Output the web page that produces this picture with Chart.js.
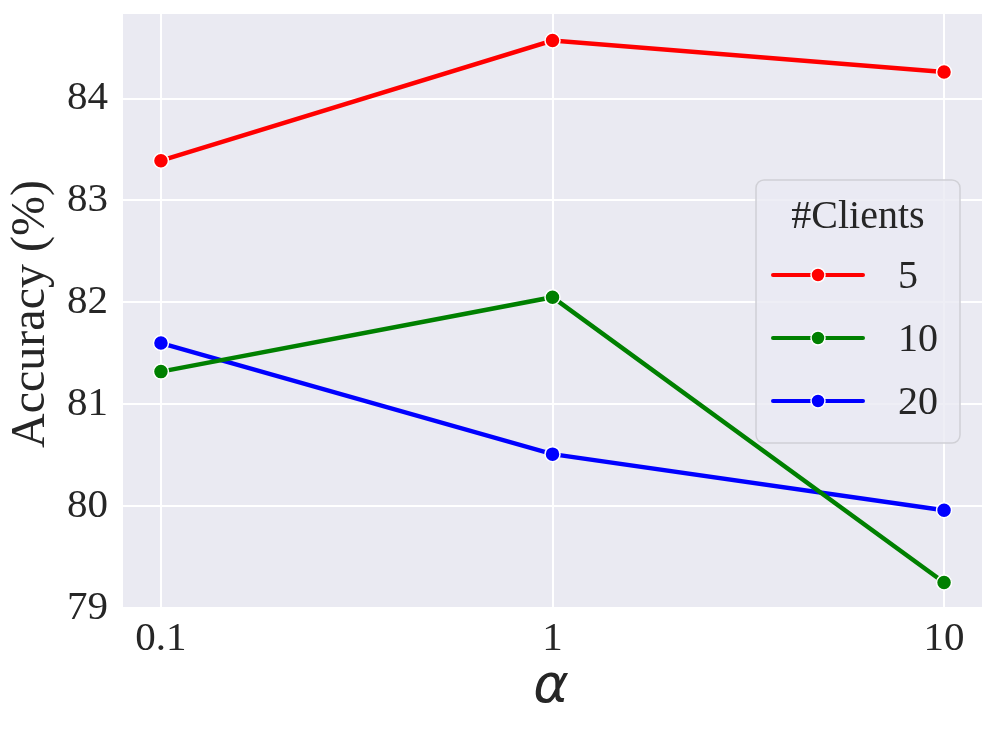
<!DOCTYPE html>
<html>
<head>
<meta charset="utf-8">
<script src="https://cdn.jsdelivr.net/npm/chart.js@4.4.1/dist/chart.umd.min.js"></script>
<style>
  html, body { margin: 0; padding: 0; background: #fff; }
  #wrap { width: 996px; height: 732px; }
</style>
</head>
<body>
<div id="wrap"><canvas id="chart" width="996" height="732"></canvas></div>
<script>
  // values
  const alphas = [0.1, 1, 10];
  const clients = ['5', '10', '20'];
  const acc5 = [83.39, 84.57, 84.26];
  const acc10 = [81.32, 82.05, 79.25];
  const acc20 = [81.60, 80.51, 79.96];
  const yTicks = [79, 80, 81, 82, 83, 84];
  const xTicks = [0.1, 1, 10];
  const colors = ['#ff0000', '#008000', '#0000ff'];

  const serif = '"Liberation Serif"';

  const series = [acc5, acc10, acc20].map((vals, i) => ({
    label: clients[i],
    data: alphas.map((a, j) => ({ x: a, y: vals[j] })),
    borderColor: colors[i],
    backgroundColor: colors[i],
    borderWidth: 4.5,
    pointRadius: 7.5,
    pointHoverRadius: 7.5,
    pointBorderColor: '#ffffff',
    pointBorderWidth: 1.5,
    pointBackgroundColor: colors[i],
    tension: 0
  }));

  // seaborn-like grey panel behind the lines
  const panel = {
    id: 'panel',
    beforeDraw(chart) {
      const { ctx, chartArea: a } = chart;
      ctx.save();
      ctx.fillStyle = '#eaeaf2';
      ctx.fillRect(a.left, a.top, a.right - a.left, a.bottom - a.top);
      ctx.restore();
    }
  };

  // axis titles + legend box inside the plot
  const extras = {
    id: 'extras',
    afterDraw(chart) {
      const { ctx } = chart;
      ctx.save();
      ctx.fillStyle = '#262626';
      ctx.translate(31, 314);
      ctx.rotate(-Math.PI / 2);
      ctx.font = '48px ' + serif;
      ctx.textAlign = 'center';
      ctx.textBaseline = 'middle';
      ctx.fillText('Accuracy (%)', 0, 0);
      ctx.restore();

      ctx.save();
      ctx.fillStyle = '#262626';
      ctx.font = 'italic 54px "DejaVu Sans"';
      ctx.textAlign = 'center';
      ctx.textBaseline = 'middle';
      ctx.fillText('α', 551, 688);
      ctx.restore();

      // legend
      const bx = 756, by = 180, bw = 204, bh = 263, r = 8;
      ctx.save();
      ctx.beginPath();
      ctx.moveTo(bx + r, by);
      ctx.arcTo(bx + bw, by, bx + bw, by + bh, r);
      ctx.arcTo(bx + bw, by + bh, bx, by + bh, r);
      ctx.arcTo(bx, by + bh, bx, by, r);
      ctx.arcTo(bx, by, bx + bw, by, r);
      ctx.closePath();
      ctx.fillStyle = 'rgba(234,234,242,0.8)';
      ctx.fill();
      ctx.strokeStyle = '#d0d0d6';
      ctx.lineWidth = 1.5;
      ctx.stroke();

      ctx.fillStyle = '#262626';
      ctx.font = '40px ' + serif;
      ctx.textAlign = 'center';
      ctx.textBaseline = 'middle';
      ctx.fillText('#Clients', 858, 217);

      const rows = [275, 338, 401];
      chart.data.datasets.forEach((ds, i) => {
        const y = rows[i];
        ctx.strokeStyle = ds.borderColor;
        ctx.lineWidth = 4;
        ctx.lineCap = 'round';
        ctx.beginPath();
        ctx.moveTo(773, y);
        ctx.lineTo(863, y);
        ctx.stroke();
        ctx.beginPath();
        ctx.arc(818, y, 7, 0, Math.PI * 2);
        ctx.fillStyle = ds.borderColor;
        ctx.fill();
        ctx.strokeStyle = '#ffffff';
        ctx.lineWidth = 1.5;
        ctx.stroke();
        ctx.fillStyle = '#262626';
        ctx.font = '40px ' + serif;
        ctx.textAlign = 'left';
        ctx.fillText(ds.label, 898, y + 2);
      });
      ctx.restore();
    }
  };

  new Chart(document.getElementById('chart'), {
    type: 'line',
    data: { datasets: series },
    options: {
      responsive: false,
      animation: false,
      layout: { padding: { top: 14, right: 14, left: 0, bottom: 0 } },
      plugins: { legend: { display: false }, tooltip: { enabled: false } },
      scales: {
        x: {
          type: 'logarithmic',
          min: 0.08,
          max: 12.5,
          afterBuildTicks: s => { s.ticks = xTicks.map(v => ({ value: v })); },
          afterFit: s => { s.height = 123; s.paddingLeft = 0; s.paddingRight = 0; },
          grid: { color: '#ffffff', lineWidth: 2, drawTicks: false },
          border: { display: false },
          ticks: {
            padding: 6,
            color: '#262626',
            font: { family: serif, size: 41 },
            maxRotation: 0,
            autoSkip: false,
            callback: v => String(v)
          }
        },
        y: {
          min: 78.99,
          max: 84.83,
          afterBuildTicks: s => { s.ticks = yTicks.map(v => ({ value: v })); },
          afterFit: s => { s.width = 123; s.paddingTop = 0; s.paddingBottom = 0; },
          grid: { color: '#ffffff', lineWidth: 2, drawTicks: false },
          border: { display: false },
          ticks: {
            padding: 15,
            color: '#262626',
            font: { family: serif, size: 41 },
            callback: v => String(v)
          }
        }
      }
    },
    plugins: [panel, extras]
  });
</script>
</body>
</html>
